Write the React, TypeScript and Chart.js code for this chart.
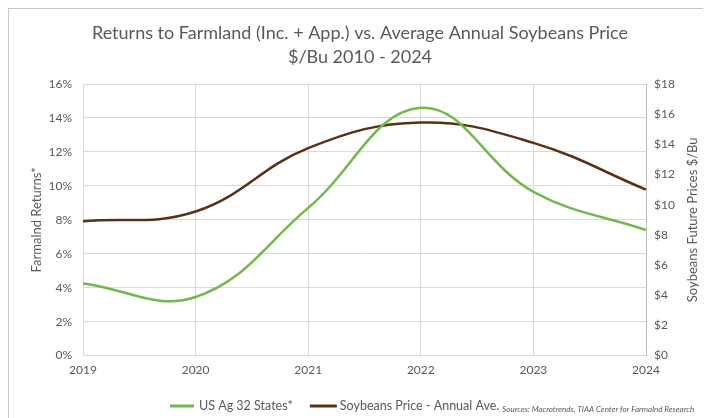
import React, { useEffect, useRef } from 'react';
import { Chart, registerables } from 'chart.js';

Chart.register(...registerables);

const years = ['2019', '2020', '2021', '2022', '2023', '2024'];
const farmlandReturns = [4.25, 3.45, 8.7, 14.6, 9.65, 7.4];
const soybeanPrice = [8.9, 9.55, 13.75, 15.45, 14.1, 11.0];
const titleLines = ['Returns to Farmland (Inc. + App.) vs. Average Annual Soybeans Price', '$/Bu 2010 - 2024'];
const seriesLabels = ['US Ag 32 States*', 'Soybeans Price - Annual Ave.'];
const leftAxisTitle = 'Farmalnd Returns*';
const rightAxisTitle = 'Soybeans Future Prices $/Bu';
const sourcesText = 'Sources: Macrotrends, TIAA Center for Farmalnd Research';

const FONT = 'Lato, "Open Sans", sans-serif';
const TEXT = '#595959';
const GREEN = '#72b84a';
const BROWN = '#5a3015';

const extrasPlugin = {
  id: 'extras',
  afterDraw(chart: any) {
    const ctx = chart.ctx;
    const area = chart.chartArea;
    ctx.save();
    ctx.fillStyle = TEXT;
    ctx.font = `13px ${FONT}`;
    ctx.textAlign = 'center';
    ctx.textBaseline = 'middle';
    ctx.translate(684, (area.top + area.bottom) / 2);
    ctx.rotate(-Math.PI / 2);
    ctx.fillText(rightAxisTitle, 0, 0);
    ctx.restore();

    ctx.save();
    const y = 397;
    let x = 161;
    ctx.font = `12.5px ${FONT}`;
    ctx.textBaseline = 'middle';
    ctx.textAlign = 'left';
    chart.data.datasets.forEach((ds: any, i: number) => {
      const sw = i === 0 ? 24 : 27;
      ctx.strokeStyle = ds.borderColor;
      ctx.lineWidth = 3;
      ctx.beginPath();
      ctx.moveTo(x, y);
      ctx.lineTo(x + sw, y);
      ctx.stroke();
      x += sw + (i === 0 ? 5 : 3);
      ctx.fillStyle = TEXT;
      ctx.fillText(ds.label, x, y);
      x += ctx.measureText(ds.label).width + (i === 0 ? 17 : 3);
    });
    ctx.font = `italic 8px ${FONT}`;
    ctx.fillStyle = TEXT;
    ctx.fillText(sourcesText, x, y + 3);
    ctx.restore();
  },
};

export default function App() {
  const ref = useRef<HTMLCanvasElement>(null);
  useEffect(() => {
    if (!ref.current) return;
    const chart = new Chart(ref.current, {
      type: 'line',
      data: {
        labels: years,
        datasets: [
          {
            label: seriesLabels[0],
            data: farmlandReturns,
            borderColor: GREEN,
            backgroundColor: GREEN,
            borderWidth: 2.5,
            pointRadius: 0,
            tension: 0.4,
            yAxisID: 'y',
          },
          {
            label: seriesLabels[1],
            data: soybeanPrice,
            borderColor: BROWN,
            backgroundColor: BROWN,
            borderWidth: 2.5,
            pointRadius: 0,
            tension: 0.4,
            yAxisID: 'y1',
          },
        ],
      },
      options: {
        responsive: false,
        animation: false,
        devicePixelRatio: 1,
        layout: { padding: { left: 0, right: 0, top: 0, bottom: 34 } },
        plugins: {
          legend: { display: false },
          tooltip: { enabled: false },
          title: {
            display: true,
            text: titleLines,
            color: TEXT,
            font: { family: FONT, size: 18, weight: 'normal', lineHeight: 24 / 18 },
            padding: { top: 12, bottom: 15 },
          },
        },
        scales: {
          x: {
            type: 'category',
            offset: false,
            grid: { color: '#d9d9d9', drawTicks: false },
            border: { display: false },
            ticks: { color: TEXT, font: { family: FONT, size: 12 }, padding: 7, maxRotation: 0 },
          },
          y: {
            position: 'left',
            min: 0,
            max: 16,
            grid: { color: '#d9d9d9', drawTicks: false },
            border: { display: false },
            ticks: {
              stepSize: 2,
              color: TEXT,
              font: { family: FONT, size: 12 },
              padding: 11,
              callback: (v: any) => `${v}%`,
            },
            title: {
              display: true,
              text: leftAxisTitle,
              color: TEXT,
              font: { family: FONT, size: 13 },
              padding: { top: 20, bottom: 0 },
            },
            afterFit: (s: any) => {
              s.width = 74;
            },
          },
          y1: {
            position: 'right',
            min: 0,
            max: 18,
            grid: { drawOnChartArea: false, drawTicks: false },
            border: { display: true, color: '#bfbfbf' },
            ticks: {
              stepSize: 2,
              color: TEXT,
              font: { family: FONT, size: 12 },
              padding: 8,
              callback: (v: any) => `$${v}`,
            },
            afterFit: (s: any) => {
              s.width = 65;
            },
          },
        },
      },
      plugins: [extrasPlugin],
    });
    return () => chart.destroy();
  }, []);
  return (
    <div
      style={{
        borderLeft: '2px solid #c8c8c8',
        borderTop: '2px solid #c8c8c8',
        margin: '-1px 0 0 -1px',
        width: 702,
        height: 409,
        background: '#fff',
      }}
    >
      <canvas ref={ref} width={702} height={409} style={{ display: 'block' }} />
    </div>
  );
}
